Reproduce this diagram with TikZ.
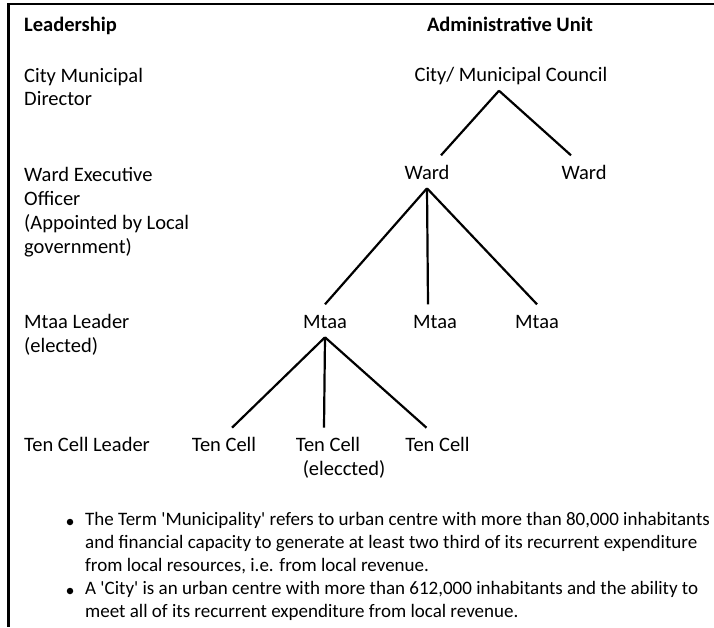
\documentclass[tikz,border=0pt]{standalone}
\usepackage{fontspec}
\setmainfont{Carlito}
\begin{document}
\begin{tikzpicture}[x=1pt,y=-1pt,
    lbl/.style={anchor=base west, inner sep=0pt, align=left, font=\fontsize{20.5}{23.8}\selectfont},
    head/.style={lbl, font=\fontsize{20.5}{23.8}\selectfont\bfseries},
    unit/.style={anchor=base, inner xsep=0pt, inner ysep=0pt, text height=19pt, text depth=4pt, outer ysep=5pt, font=\fontsize{20.5}{23.8}\selectfont},
    note/.style={anchor=base west, inner sep=0pt, align=left, font=\fontsize{19}{23}\selectfont},
    dot/.style={circle, fill, inner sep=0pt, minimum size=6.5pt},
    link/.style={line width=2.2pt}]
		\useasboundingbox (0,0) rectangle (714,627);
		% frame
		\draw[line width=2.5pt] (714,4) -- (8.7,4) -- (8.7,627);
		% left column (multi-line nodes sit on their last baseline)
		\node[head] (lead) at (24,31.7) {Leadership};
		\node[lbl] (director) at (24,105.9) {City Municipal\\Director};
		\node[lbl] (officer) at (24,253.1) {Ward Executive\\Officer\\(Appointed by Local\\government)};
		\node[lbl] (mleader) at (24,352.1) {Mtaa Leader\\(elected)};
		\node[lbl] (cleader) at (24,451.7) {Ten Cell Leader};
		% right column
		\node[head, anchor=base] (admin) at (510,31.7) {Administrative Unit};
		\node[unit] (council) at (511,81.7) {City/ Municipal Council};
		\node[unit] (wardA) at (427,179.3) {Ward};
		\node[unit] (wardB) at (584,179.3) {Ward};
		\node[unit] (mtaaA) at (325,328.3) {Mtaa};
		\node[unit] (mtaaB) at (435,328.3) {Mtaa};
		\node[unit] (mtaaC) at (537,328.3) {Mtaa};
		\node[unit] (cellA) at (224,451.7) {Ten Cell};
		\node[unit] (cellB) at (328,451.7) {Ten Cell};
		\node[unit] (cellC) at (437.5,451.7) {Ten Cell};
		\node[unit] (elect) at (344,475.5) {(eleccted)};
		\draw[link] ([xshift=-12pt]council.south) -- ([xshift=14pt]wardA.north);
		\draw[link] ([xshift=-12pt]council.south) -- ([xshift=-13pt]wardB.north);
		\draw[link] (wardA.south) -- (mtaaA.north);
		\draw[link] (wardA.south) -- ([xshift=-7pt]mtaaB.north);
		\draw[link] (wardA.south) -- (mtaaC.north);
		\draw[link] (mtaaA.south) -- ([xshift=8pt]cellA.north);
		\draw[link] (mtaaA.south) -- ([xshift=-4pt]cellB.north);
		\draw[link] (mtaaA.south) -- ([xshift=-11pt]cellC.north);
		% notes
		\node[dot] (dotA) at (70,522) {};
		\node[note] (noteA) at (85,571) {The Term \textquotesingle Municipality\textquotesingle{} refers to urban centre with more than 80,000 inhabitants\\and financial capacity to generate at least two third of its recurrent expenditure\\from local resources, i.e. from local revenue.};
		\node[dot] (dotB) at (70,591) {};
		\node[note] (noteB) at (85,617) {A \textquotesingle City\textquotesingle{} is an urban centre with more than 612,000 inhabitants and the ability to\\meet all of its recurrent expenditure from local revenue.};
\end{tikzpicture}
\end{document}
